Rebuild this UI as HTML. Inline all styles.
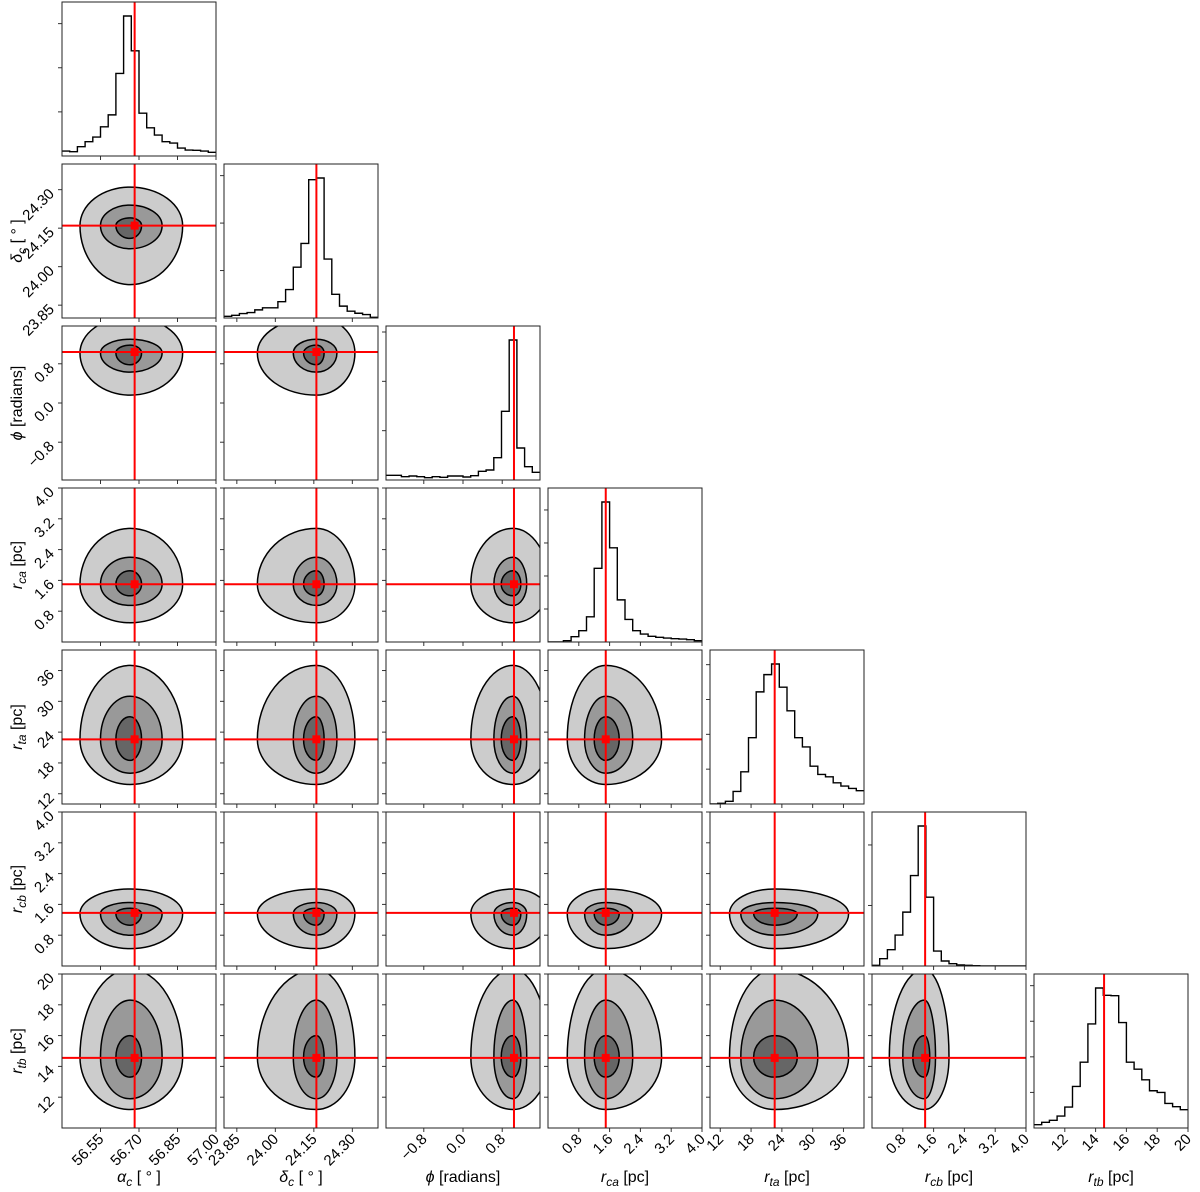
<!DOCTYPE html>
<html><head><meta charset="utf-8"><style>
html,body{margin:0;padding:0;background:#fff;}
svg{display:block;font-family:"Liberation Sans","DejaVu Sans",sans-serif;}
</style></head><body>
<svg id="fig" width="1200" height="1192" viewBox="0 0 1200 1192" xmlns="http://www.w3.org/2000/svg"></svg>
<script>
// ---- data ----
const paramNames = ["alpha_c","delta_c","phi","r_ca","r_ta","r_cb","r_tb"];
const rangeMin = [56.40, 23.80, -1.5708, 0, 10, 0, 10];
const rangeMax = [57.00, 24.40, 1.5708, 4, 40, 4, 20];
const truth = [56.683, 24.16, 1.04, 1.5, 22.6, 1.38, 14.55];
const center = [56.665, 24.16, 1.02, 1.5, 22.6, 1.36, 14.6];
const outerLo = [56.47, 23.93, 0.16, 0.5, 13.8, 0.45, 11.2];
const outerHi = [56.87, 24.31, 1.75, 2.95, 37.0, 2.0, 20.3];
const midLo = [56.55, 24.07, 0.63, 0.95, 16.0, 0.8, 11.9];
const midHi = [56.79, 24.24, 1.30, 2.2, 31.0, 1.65, 18.3];
const innerLo = [56.61, 24.11, 0.78, 1.2, 18.5, 1.06, 13.3];
const innerHi = [56.71, 24.19, 1.18, 1.85, 27.0, 1.5, 16.0];
const tickVals = [
  [56.55,56.70,56.85,57.00],
  [23.85,24.00,24.15,24.30],
  [-0.8,0.0,0.8],
  [0.8,1.6,2.4,3.2,4.0],
  [12,18,24,30,36],
  [0.8,1.6,2.4,3.2,4.0],
  [12,14,16,18,20]];
const tickLabels = [
  ["56.55","56.70","56.85","57.00"],
  ["23.85","24.00","24.15","24.30"],
  ["\u22120.8","0.0","0.8"],
  ["0.8","1.6","2.4","3.2","4.0"],
  ["12","18","24","30","36"],
  ["0.8","1.6","2.4","3.2","4.0"],
  ["12","14","16","18","20"]];
const histAlpha = [15,13,28,43,57,88,124,249,422,317,129,85,63,43,39,24,18,17,15,11];
const histDelta = [5,8,13,16,24,30,30,48,84,150,220,408,413,174,70,35,20,14,10,2];
const histPhi = [14,14,10,12,10,7,10,8,12,12,9,13,26,30,67,206,420,96,40,23];
const histRca = [0,0,4,16,34,76,222,422,284,127,68,34,24,17,14,12,10,9,7,4];
const histRta = [0,2,8,38,97,200,338,390,422,352,281,200,172,114,89,82,64,54,47,40];
const histRcb = [2,22,49,93,162,272,421,207,45,15,7,3,2,1,0,0,0,0,0,0];
const histRtb = [10,17,23,36,63,125,198,313,421,399,398,317,198,177,145,112,107,74,64,55];
const histTickStep = [133,140,148,99.5,105,182,107];
const hists = [histAlpha,histDelta,histPhi,histRca,histRta,histRcb,histRtb];

// ---- layout ----
const L=62, T=2, W=154, G=8, N=7;
const svg=document.getElementById('fig');
const NS="http://www.w3.org/2000/svg";
function mk(tag,attrs,parent){const e=document.createElementNS(NS,tag);for(const k in attrs)e.setAttribute(k,attrs[k]);(parent||svg).appendChild(e);return e;}
function px(j,v){return L+j*(W+G)+(v-rangeMin[j])/(rangeMax[j]-rangeMin[j])*W;}
function py(i,v){return T+i*(W+G)+W-(v-rangeMin[i])/(rangeMax[i]-rangeMin[i])*W;}

const defs=mk('defs',{});
for(let i=0;i<N;i++)for(let j=0;j<=i;j++){
  const cp=mk('clipPath',{id:'c'+i+'_'+j},defs);
  mk('rect',{x:L+j*(W+G),y:T+i*(W+G),width:W,height:W},cp);
}

function blob(i,j,lo,hi){
  const cx=px(j,center[j]), cy=py(i,center[i]);
  const rL=cx-px(j,lo[j]), rR=px(j,hi[j])-cx;
  const rT=cy-py(i,hi[i]), rB=py(i,lo[i])-cy;
  return `M${cx+rR},${cy} A${rR},${rB} 0 0 1 ${cx},${cy+rB} A${rL},${rB} 0 0 1 ${cx-rL},${cy} A${rL},${rT} 0 0 1 ${cx},${cy-rT} A${rR},${rT} 0 0 1 ${cx+rR},${cy} Z`;
}

for(let i=0;i<N;i++){
  for(let j=0;j<=i;j++){
    const x0=L+j*(W+G), y0=T+i*(W+G);
    const g=mk('g',{});
    
    
    const inner=mk('g',{'clip-path':`url(#c${i}_${j})`},g);
    if(i===j){
      const h=hists[i]; const mx=Math.max(...h)*1.1; const nb=h.length;
      let d='';
      for(let b=0;b<nb;b++){
        const xa=x0+b/nb*W, xb=x0+(b+1)/nb*W, yy=y0+W-h[b]/mx*W;
        d+=(b===0?`M${xa},${yy}`:`L${xa},${yy}`)+`L${xb},${yy}`;
      }
      const p=mk('path',{d:d,fill:'none',stroke:'#000','stroke-width':1.4},inner);
      
      
      for(let t=histTickStep[i];t<mx;t+=histTickStep[i]){
        const yy=y0+W-t/mx*W;
        mk('line',{x1:x0-4,x2:x0,y1:yy,y2:yy,stroke:'#333','stroke-width':1},g);
      }
      const tl=mk('line',{x1:px(j,truth[j]),x2:px(j,truth[j]),y1:y0,y2:y0+W,stroke:'#f00','stroke-width':2},inner);
      
      
    } else {
      const levels=[[outerLo,outerHi,'#cccccc'],[midLo,midHi,'#999999'],[innerLo,innerHi,'#666666']];
      levels.forEach((lv,k)=>{
        const p=mk('path',{d:blob(i,j,lv[0],lv[1]),fill:lv[2],stroke:'#000','stroke-width':1.5},inner);
        
        
      });
      const tx=px(j,truth[j]), ty=py(i,truth[i]);
      const vl=mk('line',{x1:tx,x2:tx,y1:y0,y2:y0+W,stroke:'#f00','stroke-width':2},inner);
      
      
      const hl=mk('line',{x1:x0,x2:x0+W,y1:ty,y2:ty,stroke:'#f00','stroke-width':2},inner);
      
      
      const sq=mk('rect',{x:tx-4,y:ty-4,width:8,height:8,fill:'#f00'},inner);
      
      
      tickVals[i].forEach((v,k)=>{
        const yy=py(i,v);
        if(yy<y0-0.5||yy>y0+W+0.5)return;
        mk('line',{x1:x0-4,x2:x0,y1:yy,y2:yy,stroke:'#333','stroke-width':1},g);
        if(j===0){
          const t=mk('text',{x:x0-7,y:yy+5,'text-anchor':'end','font-size':15,fill:'#000',transform:`rotate(-45 ${x0-7} ${yy+5})`},g);
          t.textContent=tickLabels[i][k];
          
          
        }
      });
    }
    tickVals[j].forEach((v,k)=>{
      const xx=px(j,v);
      if(xx<x0-0.5||xx>x0+W+0.5)return;
      mk('line',{x1:xx,x2:xx,y1:y0+W,y2:y0+W+4,stroke:'#333','stroke-width':1},g);
      if(i===N-1){
        const t=mk('text',{x:xx+4,y:y0+W+12,'text-anchor':'end','font-size':15,fill:'#000',transform:`rotate(-45 ${xx+4} ${y0+W+12})`},g);
        t.textContent=tickLabels[j][k];
        
        
      }
    });
    const fr=mk('rect',{x:x0,y:y0,width:W,height:W,fill:'none',stroke:'#222','stroke-width':1},g);
    
    
  }
}

// axis labels
const labelHTML = [
  ['\u03B1','c',' [ \u00B0 ]'],
  ['\u03B4','c',' [ \u00B0 ]'],
  ['\u03D5','',' [radians]'],
  ['r','ca',' [pc]'],
  ['r','ta',' [pc]'],
  ['r','cb',' [pc]'],
  ['r','tb',' [pc]']];
function label(parts,x,y,rot,name){
  const t=mk('text',{x:x,y:y,'text-anchor':'middle','font-size':16,fill:'#000'});
  if(rot)t.setAttribute('transform',`rotate(-90 ${x} ${y})`);
  
  
  const a=mk('tspan',{'font-style':'italic'},t);a.textContent=parts[0];
  if(parts[1]){const s=mk('tspan',{'font-style':'italic','font-size':12,dy:4},t);s.textContent=parts[1];
    const r=mk('tspan',{dy:-4},t);r.textContent=parts[2];}
  else{const r=mk('tspan',{},t);r.textContent=parts[2];}
}
for(let j=0;j<N;j++) label(labelHTML[j],L+j*(W+G)+W/2,1182,false,'x-axis-title-'+paramNames[j]);
for(let i=1;i<N;i++) label(labelHTML[i],22,T+i*(W+G)+W/2,true,'y-axis-title-'+paramNames[i]);
</script>
</body></html>
